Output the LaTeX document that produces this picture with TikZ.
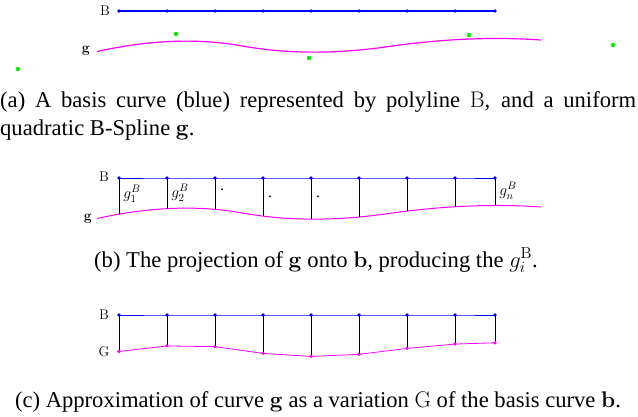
\RequirePackage{fix-cm}
\documentclass[tikz,border=0pt]{standalone}
\usepackage[no-math]{fontspec}
\setmainfont{Liberation Serif}
\usetikzlibrary{calc}
\definecolor{bblue}{RGB}{0,0,255}
\definecolor{gmag}{RGB}{255,0,255}
\definecolor{cgreen}{RGB}{0,240,0}
\tikzset{
  bdot/.style={circle,fill=bblue,inner sep=0pt,minimum size=3.6pt},
  mdot/.style={circle,fill=gmag,inner sep=0pt,minimum size=3.6pt},
  ctrlpt/.style={circle,fill=cgreen,inner sep=0pt,minimum size=4.5pt},
  lbl/.style={font=\fontsize{14}{16}\selectfont, inner sep=0pt},
  sublbl/.style={font=\fontsize{15.5}{17}\selectfont, inner sep=0pt},
  captext/.style={font=\fontsize{22.6}{27}\selectfont, inner sep=0pt, anchor=base},
  basis/.style={draw=bblue, line width=1pt},
  spline/.style={draw=gmag, line width=1pt},
  proj/.style={draw=black, line width=0.6pt},
}
\newcommand{\splineat}[2]{%
  \coordinate (P0) at (18,69+#2);
  \coordinate (P1) at (176,34+#2);
  \coordinate (P2) at (309,58+#2);
  \coordinate (P3) at (469,35+#2);
  \coordinate (P4) at (613,45+#2);
  \coordinate (q0) at ($(P0)!0.5!(P1)$);
  \coordinate (q1) at ($(P1)!0.5!(P2)$);
  \coordinate (q2) at ($(P2)!0.5!(P3)$);
  \coordinate (q3) at ($(P3)!0.5!(P4)$);
  \path[#1] (q0) .. controls ($(q0)!0.6667!(P1)$) and ($(q1)!0.6667!(P1)$) .. (q1)
    .. controls ($(q1)!0.6667!(P2)$) and ($(q2)!0.6667!(P2)$) .. (q2)
    .. controls ($(q2)!0.6667!(P3)$) and ($(q3)!0.6667!(P3)$) .. (q3);
}
\begin{document}
\begin{tikzpicture}[x=1pt,y=-1pt]
\useasboundingbox (0,0) rectangle (638,416);
% ---------- panel (a)
\foreach \x [count=\i] in {119,167,215,263,311,359,407,455,495}
  \coordinate (a\i) at (\x,11);
\draw[basis, line width=1.2pt] (a1) \foreach \i in {2,...,9} {-- (a\i)};
\foreach \i in {1,...,9} \node[bdot] (ad\i) at (a\i) {};
\splineat{spline, line width=1.2pt}{0}
\node[ctrlpt] (c0) at (P0) {};
\node[ctrlpt] (c1) at (P1) {};
\node[ctrlpt] (c2) at (P2) {};
\node[ctrlpt] (c3) at (P3) {};
\node[ctrlpt] (c4) at (P4) {};
\node[lbl] (la) at (105,11) {$\mathrm{B}$};
\node[lbl] (lga) at (86,50.5) {$\mathbf{g}$};
\node[captext, anchor=base west] (capa1) at (0,107) {\makebox[636pt][s]{(a) A basis curve (blue) represented by polyline $\mathrm{B}$, and a uniform}};
\node[captext, anchor=base west] (capa2) at (0,135) {quadratic B-Spline $\mathbf{g}$.};
% ---------- panel (b)
\splineat{spline}{167}
\foreach \x/\y [count=\i] in {119/47.16,167/41.64,215/42.34,263/49.10,311/52.12,359/50.03,407/44.11,455/39.74,495/38.49} {
  \coordinate (b\i) at (\x,178);
  \coordinate (gb\i) at (\x,\y+167);
  \draw[proj] (b\i) -- (gb\i);
}
\draw[basis] (b1) \foreach \i in {2,...,9} {-- (b\i)};
\foreach \i in {1,...,9} \node[bdot] (bd\i) at (b\i) {};
\node[lbl] (lb) at (104,177) {$\mathrm{B}$};
\node[lbl] (lgb) at (88,219) {$\mathbf{g}$};
\node[sublbl] (s1) at (132,194) {$g_1^B$};
\node[sublbl] (s2) at (180,193) {$g_2^B$};
\node[sublbl] (d1) at (222,190) {.};
\node[sublbl] (d2) at (270,197) {.};
\node[sublbl] (d3) at (318,197) {.};
\node[sublbl] (sn) at (508,191) {$g_n^B$};
\node[captext] (capb) at (316,267) {(b) The projection of $\mathbf{g}$ onto $\mathbf{b}$, producing the $g_i^{\mathrm{B}}$.};
% ---------- panel (c)
\foreach \x/\y [count=\i] in {119/47.16,167/41.64,215/42.34,263/49.10,311/52.12,359/50.03,407/44.11,455/39.74,495/38.49} {
  \coordinate (cb\i) at (\x,315);
  \coordinate (gc\i) at (\x,\y+304.3);
  \draw[proj] (cb\i) -- (gc\i);
}
\draw[basis] (cb1) \foreach \i in {2,...,9} {-- (cb\i)};
\foreach \i in {1,...,9} \node[bdot] (cd\i) at (cb\i) {};
\draw[spline, line width=0.8pt] (gc1) \foreach \i in {2,...,9} {-- (gc\i)};
\foreach \i in {1,...,9} \node[mdot] (m\i) at (gc\i) {};
\node[lbl] (lc) at (104,315) {$\mathrm{B}$};
\node[lbl] (lG) at (104,352) {$\mathrm{G}$};
\node[captext] (capc) at (318,407) {(c) Approximation of curve $\mathbf{g}$ as a variation $\mathrm{G}$ of the basis curve $\mathbf{b}$.};
\end{tikzpicture}
\end{document}
